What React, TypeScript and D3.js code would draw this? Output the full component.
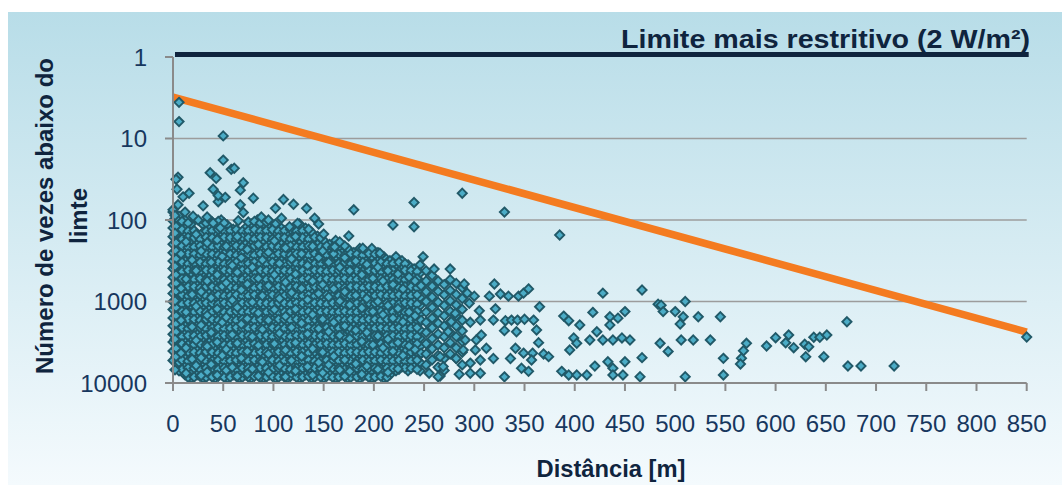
import React from 'react';
import * as d3 from 'd3';

const xTicks = [0, 50, 100, 150, 200, 250, 300, 350, 400, 450, 500, 550, 600, 650, 700, 750, 800, 850];
const yTicks = [1, 10, 100, 1000, 10000];
const gridValues = [10, 100, 1000];
const limitLine: [number, number][] = [[0, 1], [850, 1]];
const trendLine: [number, number][] = [[0, 3.1], [850, 2370]];

const outliers: [number, number][] = [
  [6, 3.6], [6, 6.2], [50, 9.3], [50, 18.4], [58, 23.9], [61, 23.2], [5, 29.9], [3, 31.7], [37, 26.3], [43, 30.8],
  [70, 34.9], [4, 42], [16, 47], [40, 42], [67, 43], [47, 54], [52, 52.7], [45, 59.6], [80, 54], [0, 75], [5, 65],
  [30, 67], [67, 65], [70, 81], [102, 72], [110, 56], [120, 64], [133, 72], [180, 75], [240, 61], [219, 115],
  [240, 121], [65, 102], [108, 95], [116, 121], [141, 95], [145, 112], [150, 149], [175, 157], [189, 222],
  [206, 256], [249, 282], [288, 47], [330, 80], [385, 153], [10, 52], [45, 50], [25, 100], [34, 92], [40, 109],
  [47, 125], [166, 186], [161, 214], [2, 88], [12, 80], [20, 90], [88, 92], [95, 100], [124, 110], [135, 130],
];

const blobColumns: [number, number[]][] = [
  [0, [80, 102, 125, 160, 198, 252, 318, 395, 505, 628, 795, 1005, 1255, 1590, 1990, 2520, 3150, 4050, 5300]],
  [6, [90, 113, 140, 180, 222, 285, 352, 450, 560, 710, 890, 1125, 1410, 1780, 2235, 2820, 3540, 4480, 5600, 7100]],
  [12, [100, 127, 157, 202, 250, 318, 396, 503, 630, 795, 998, 1262, 1580, 1998, 2515, 3160, 3985, 5010, 6320, 7950]],
  [18, [112, 142, 176, 225, 280, 357, 445, 565, 705, 893, 1120, 1415, 1775, 2245, 2815, 3550, 4460, 5630, 7080, 8700]],
  [24, [160, 199, 252, 315, 400, 498, 633, 792, 1003, 1258, 1587, 1995, 2510, 3165, 3980, 5015, 6305, 7940]],
  [30, [114, 141, 179, 223, 283, 354, 448, 560, 709, 890, 1125, 1410, 1780, 2235, 2820, 3545, 4470, 5620, 7075, 8700]],
  [36, [101, 126, 158, 201, 250, 316, 398, 501, 631, 794, 1000, 1259, 1585, 1995, 2512, 3162, 3981, 5012, 6310, 7943]],
  [42, [112, 141, 178, 224, 282, 355, 447, 562, 708, 891, 1122, 1413, 1778, 2239, 2818, 3548, 4467, 5623, 7079, 8700]],
  [48, [100, 126, 158, 200, 251, 316, 398, 501, 631, 794, 1000, 1259, 1585, 1995, 2512, 3162, 3981, 5012, 6310, 7943]],
  [54, [115, 141, 178, 224, 282, 355, 447, 562, 708, 891, 1122, 1413, 1778, 2239, 2818, 3548, 4467, 5623, 7079, 8700]],
  [60, [130, 158, 200, 251, 316, 398, 501, 631, 794, 1000, 1259, 1585, 1995, 2512, 3162, 3981, 5012, 6310, 7943]],
  [66, [141, 178, 224, 282, 355, 447, 562, 708, 891, 1122, 1413, 1778, 2239, 2818, 3548, 4467, 5623, 7079, 8700]],
  [72, [126, 158, 200, 251, 316, 398, 501, 631, 794, 1000, 1259, 1585, 1995, 2512, 3162, 3981, 5012, 6310, 7943]],
  [78, [112, 141, 178, 224, 282, 355, 447, 562, 708, 891, 1122, 1413, 1778, 2239, 2818, 3548, 4467, 5623, 7079, 8700]],
  [84, [100, 126, 158, 200, 251, 316, 398, 501, 631, 794, 1000, 1259, 1585, 1995, 2512, 3162, 3981, 5012, 6310, 7943]],
  [90, [112, 141, 178, 224, 282, 355, 447, 562, 708, 891, 1122, 1413, 1778, 2239, 2818, 3548, 4467, 5623, 7079, 8700]],
  [96, [126, 158, 200, 251, 316, 398, 501, 631, 794, 1000, 1259, 1585, 1995, 2512, 3162, 3981, 5012, 6310, 7943]],
  [102, [112, 141, 178, 224, 282, 355, 447, 562, 708, 891, 1122, 1413, 1778, 2239, 2818, 3548, 4467, 5623, 7079, 8700]],
  [108, [126, 158, 200, 251, 316, 398, 501, 631, 794, 1000, 1259, 1585, 1995, 2512, 3162, 3981, 5012, 6310, 7943]],
  [114, [141, 178, 224, 282, 355, 447, 562, 708, 891, 1122, 1413, 1778, 2239, 2818, 3548, 4467, 5623, 7079, 8700]],
  [120, [126, 158, 200, 251, 316, 398, 501, 631, 794, 1000, 1259, 1585, 1995, 2512, 3162, 3981, 5012, 6310, 7943]],
  [126, [112, 141, 178, 224, 282, 355, 447, 562, 708, 891, 1122, 1413, 1778, 2239, 2818, 3548, 4467, 5623, 7079, 8700]],
  [132, [126, 158, 200, 251, 316, 398, 501, 631, 794, 1000, 1259, 1585, 1995, 2512, 3162, 3981, 5012, 6310, 7943]],
  [138, [141, 178, 224, 282, 355, 447, 562, 708, 891, 1122, 1413, 1778, 2239, 2818, 3548, 4467, 5623, 7079, 8700]],
  [144, [158, 200, 251, 316, 398, 501, 631, 794, 1000, 1259, 1585, 1995, 2512, 3162, 3981, 5012, 6310, 7943]],
  [150, [178, 224, 282, 355, 447, 562, 708, 891, 1122, 1413, 1778, 2239, 2818, 3548, 4467, 5623, 7079, 8700]],
  [156, [200, 251, 316, 398, 501, 631, 794, 1000, 1259, 1585, 1995, 2512, 3162, 3981, 5012, 6310, 7943]],
  [162, [178, 224, 282, 355, 447, 562, 708, 891, 1122, 1413, 1778, 2239, 2818, 3548, 4467, 5623, 7079, 8700]],
  [168, [200, 251, 316, 398, 501, 631, 794, 1000, 1259, 1585, 1995, 2512, 3162, 3981, 5012, 6310, 7943]],
  [174, [224, 282, 355, 447, 562, 708, 891, 1122, 1413, 1778, 2239, 2818, 3548, 4467, 5623, 7079, 8700]],
  [180, [251, 316, 398, 501, 631, 794, 1000, 1259, 1585, 1995, 2512, 3162, 3981, 5012, 6310, 7943]],
  [186, [224, 282, 355, 447, 562, 708, 891, 1122, 1413, 1778, 2239, 2818, 3548, 4467, 5623, 7079, 8700]],
  [192, [251, 316, 398, 501, 631, 794, 1000, 1259, 1585, 1995, 2512, 3162, 3981, 5012, 6310, 7943]],
  [198, [224, 282, 355, 447, 562, 708, 891, 1122, 1413, 1778, 2239, 2818, 3548, 4467, 5623, 7079, 8700]],
  [204, [251, 316, 398, 501, 631, 794, 1000, 1259, 1585, 1995, 2512, 3162, 3981, 5012, 6310, 7943]],
  [210, [282, 355, 447, 562, 708, 891, 1122, 1413, 1778, 2239, 2818, 3548, 4467, 5623, 7079, 8700]],
  [216, [316, 398, 501, 631, 794, 1000, 1259, 1585, 1995, 2512, 3162, 3981, 5012, 6310, 7943]],
  [222, [282, 355, 447, 562, 708, 891, 1122, 1413, 1778, 2239, 2818, 3548, 4467, 5623, 7079]],
  [228, [316, 398, 501, 631, 794, 1000, 1259, 1585, 1995, 2512, 3162, 3981, 5012, 6310]],
  [234, [355, 447, 562, 708, 891, 1122, 1413, 1778, 2239, 2818, 3548, 4467, 5623, 7079]],
  [240, [398, 501, 631, 794, 1000, 1259, 1585, 1995, 2512, 3162, 3981, 5012, 6310]],
  [246, [355, 447, 562, 708, 891, 1122, 1413, 1778, 2239, 2818, 3548, 4467, 5623, 7079]],
];

const blobColumnsB: [number, number[]][] = [
  [3, [95, 120, 150, 190, 240, 300, 380, 470, 600, 750, 950, 1190, 1500, 1880, 2370, 2990, 3760, 4740]],
  [9, [104, 131, 171, 208, 270, 330, 428, 525, 680, 830, 1075, 1320, 1700, 2090, 2700, 3300, 4280, 5250, 6800]],
  [15, [109, 137, 163, 216, 259, 344, 414, 540, 655, 855, 1040, 1355, 1650, 2150, 2610, 3400, 4150, 5400, 6550, 8500]],
  [21, [135, 165, 214, 262, 340, 418, 535, 660, 850, 1050, 1345, 1660, 2130, 2630, 3380, 4180, 5350, 6600, 8450]],
  [27, [171, 208, 270, 330, 428, 525, 680, 830, 1075, 1320, 1700, 2090, 2700, 3300, 4280, 5250, 6800, 8300]],
  [33, [109, 137, 163, 216, 259, 344, 414, 540, 655, 855, 1040, 1355, 1650, 2150, 2610, 3400, 4150, 5400, 6550, 8500]],
  [39, [106, 135, 165, 214, 262, 340, 418, 535, 660, 850, 1050, 1345, 1660, 2130, 2630, 3380, 4180, 5350, 6600, 8450]],
  [45, [104, 131, 171, 208, 270, 330, 428, 525, 680, 830, 1075, 1320, 1700, 2090, 2700, 3300, 4280, 5250, 6800, 8300]],
  [51, [109, 137, 163, 216, 259, 344, 414, 540, 655, 855, 1040, 1355, 1650, 2150, 2610, 3400, 4150, 5400, 6550, 8500]],
  [57, [135, 165, 214, 262, 340, 418, 535, 660, 850, 1050, 1345, 1660, 2130, 2630, 3380, 4180, 5350, 6600, 8450]],
  [63, [131, 171, 208, 270, 330, 428, 525, 680, 830, 1075, 1320, 1700, 2090, 2700, 3300, 4280, 5250, 6800, 8300]],
  [69, [137, 163, 216, 259, 344, 414, 540, 655, 855, 1040, 1355, 1650, 2150, 2610, 3400, 4150, 5400, 6550, 8500]],
  [75, [106, 135, 165, 214, 262, 340, 418, 535, 660, 850, 1050, 1345, 1660, 2130, 2630, 3380, 4180, 5350, 6600, 8450]],
  [81, [104, 131, 171, 208, 270, 330, 428, 525, 680, 830, 1075, 1320, 1700, 2090, 2700, 3300, 4280, 5250, 6800, 8300]],
  [87, [109, 137, 163, 216, 259, 344, 414, 540, 655, 855, 1040, 1355, 1650, 2150, 2610, 3400, 4150, 5400, 6550, 8500]],
  [93, [106, 135, 165, 214, 262, 340, 418, 535, 660, 850, 1050, 1345, 1660, 2130, 2630, 3380, 4180, 5350, 6600, 8450]],
  [99, [131, 171, 208, 270, 330, 428, 525, 680, 830, 1075, 1320, 1700, 2090, 2700, 3300, 4280, 5250, 6800, 8300]],
  [105, [137, 163, 216, 259, 344, 414, 540, 655, 855, 1040, 1355, 1650, 2150, 2610, 3400, 4150, 5400, 6550, 8500]],
  [111, [135, 165, 214, 262, 340, 418, 535, 660, 850, 1050, 1345, 1660, 2130, 2630, 3380, 4180, 5350, 6600, 8450]],
  [117, [131, 171, 208, 270, 330, 428, 525, 680, 830, 1075, 1320, 1700, 2090, 2700, 3300, 4280, 5250, 6800, 8300]],
  [123, [137, 163, 216, 259, 344, 414, 540, 655, 855, 1040, 1355, 1650, 2150, 2610, 3400, 4150, 5400, 6550, 8500]],
  [129, [135, 165, 214, 262, 340, 418, 535, 660, 850, 1050, 1345, 1660, 2130, 2630, 3380, 4180, 5350, 6600, 8450]],
  [135, [171, 208, 270, 330, 428, 525, 680, 830, 1075, 1320, 1700, 2090, 2700, 3300, 4280, 5250, 6800, 8300]],
  [141, [163, 216, 259, 344, 414, 540, 655, 855, 1040, 1355, 1650, 2150, 2610, 3400, 4150, 5400, 6550, 8500]],
  [147, [165, 214, 262, 340, 418, 535, 660, 850, 1050, 1345, 1660, 2130, 2630, 3380, 4180, 5350, 6600, 8450]],
  [153, [208, 270, 330, 428, 525, 680, 830, 1075, 1320, 1700, 2090, 2700, 3300, 4280, 5250, 6800, 8300]],
  [159, [216, 259, 344, 414, 540, 655, 855, 1040, 1355, 1650, 2150, 2610, 3400, 4150, 5400, 6550, 8500]],
  [165, [214, 262, 340, 418, 535, 660, 850, 1050, 1345, 1660, 2130, 2630, 3380, 4180, 5350, 6600, 8450]],
  [171, [208, 270, 330, 428, 525, 680, 830, 1075, 1320, 1700, 2090, 2700, 3300, 4280, 5250, 6800, 8300]],
  [177, [259, 344, 414, 540, 655, 855, 1040, 1355, 1650, 2150, 2610, 3400, 4150, 5400, 6550, 8500]],
  [183, [262, 340, 418, 535, 660, 850, 1050, 1345, 1660, 2130, 2630, 3380, 4180, 5350, 6600, 8450]],
  [189, [270, 330, 428, 525, 680, 830, 1075, 1320, 1700, 2090, 2700, 3300, 4280, 5250, 6800, 8300]],
  [195, [259, 344, 414, 540, 655, 855, 1040, 1355, 1650, 2150, 2610, 3400, 4150, 5400, 6550, 8500]],
  [201, [262, 340, 418, 535, 660, 850, 1050, 1345, 1660, 2130, 2630, 3380, 4180, 5350, 6600, 8450]],
  [207, [270, 330, 428, 525, 680, 830, 1075, 1320, 1700, 2090, 2700, 3300, 4280, 5250, 6800, 8300]],
  [213, [344, 414, 540, 655, 855, 1040, 1355, 1650, 2150, 2610, 3400, 4150, 5400, 6550, 8500]],
  [219, [340, 418, 535, 660, 850, 1050, 1345, 1660, 2130, 2630, 3380, 4180, 5350, 6600]],
  [225, [330, 428, 525, 680, 830, 1075, 1320, 1700, 2090, 2700, 3300, 4280, 5250, 6800]],
  [231, [344, 414, 540, 655, 855, 1040, 1355, 1650, 2150, 2610, 3400, 4150, 5400, 6550]],
  [237, [418, 535, 660, 850, 1050, 1345, 1660, 2130, 2630, 3380, 4180, 5350, 6600]],
  [243, [428, 525, 680, 830, 1075, 1320, 1700, 2090, 2700, 3300, 4280, 5250, 6800]],
];

const blobScatter: [number, number[]][] = [
  [2, [145, 370, 980, 2900, 6900]], [8, [260, 690, 1700, 4300]], [13, [185, 530, 1350, 3700, 7600]],
  [19, [310, 820, 2050, 5100]], [23, [150, 420, 1150, 3000, 6100]], [28, [240, 760, 1950, 4900, 8100]],
  [34, [190, 560, 1480, 3550, 7300]], [38, [330, 900, 2400, 5900]], [44, [175, 470, 1230, 3150, 8000]],
  [49, [280, 650, 1800, 4600]], [53, [210, 590, 1560, 3850, 7000]], [59, [360, 960, 2550, 6400]],
  [64, [160, 440, 1180, 3250, 8300]], [68, [290, 720, 1900, 4950]], [74, [230, 610, 1620, 4100, 7700]],
  [79, [380, 1020, 2700, 6700]], [85, [200, 520, 1380, 3450, 8200]], [89, [310, 850, 2200, 5500]],
  [95, [250, 640, 1700, 4400, 7400]], [101, [180, 470, 1260, 3300]], [106, [340, 920, 2450, 6100]],
  [112, [220, 580, 1520, 3950, 8400]], [118, [300, 780, 2080, 5300]], [122, [160, 460, 1240, 3200, 7100]],
  [128, [260, 690, 1850, 4700]], [134, [360, 950, 2500, 6300]], [139, [210, 560, 1450, 3800, 8000]],
  [145, [290, 800, 2150, 5600]], [149, [240, 620, 1650, 4200, 7500]], [155, [330, 880, 2350, 6000]],
  [160, [260, 700, 1800, 4700]], [166, [380, 990, 2600, 6900]], [171, [290, 760, 2000, 5200, 8300]],
  [176, [420, 1100, 2850, 7200]], [182, [320, 840, 2250, 5800]], [188, [470, 1200, 3100, 7800]],
  [193, [350, 920, 2400, 6200]], [199, [520, 1330, 3400]], [204, [380, 1000, 2650, 6800]],
  [209, [560, 1450, 3700]], [214, [420, 1120, 2900, 7400]], [219, [620, 1600, 4100]],
  [224, [460, 1220, 3200, 6700]], [229, [700, 1780, 4600]], [235, [500, 1350, 3500]],
  [241, [560, 1500, 3900]], [247, [640, 1700, 4300]],
];

const midPoints: [number, number][] = [
  [252, 420], [252, 560], [252, 760], [252, 1000], [252, 1350], [252, 1800], [252, 2400], [252, 3300], [252, 4400], [252, 6000],
  [258, 480], [258, 650], [258, 880], [258, 1180], [258, 1600], [258, 2100], [258, 2850], [258, 3800], [258, 5200],
  [264, 560], [264, 750], [264, 1020], [264, 1380], [264, 1850], [264, 2500], [264, 3400], [264, 4600], [264, 6400],
  [270, 620], [270, 830], [270, 1120], [270, 1500], [270, 2000], [270, 2700], [270, 3700], [270, 5000], [270, 7000],
  [276, 540], [276, 730], [276, 980], [276, 1320], [276, 1780], [276, 2400], [276, 3200], [276, 4400],
  [282, 600], [282, 820], [282, 1100], [282, 1500], [282, 2000], [282, 2700], [282, 3700], [282, 5000],
  [288, 680], [288, 920], [288, 1250], [288, 1700], [288, 2300], [288, 3100], [288, 4200], [288, 6000],
  [260, 400], [276, 400], [255, 7600], [266, 8200], [285, 7800],
  [266, 4750], [269, 6290], [264, 8370], [274, 2350], [281, 1400], [277, 1770],
  [290, 610], [293, 790], [300, 860], [295, 1050], [320, 610], [315, 860], [326, 810], [334, 860], [344, 860],
  [349, 790], [354, 700], [365, 1160], [330, 8400], [359, 1690], [362, 2240], [364, 3200], [358, 4300], [369, 4400],
  [374, 4750], [321, 1230], [305, 1300], [296, 1800], [306, 1690], [319, 1690], [331, 1720], [337, 1690], [343, 1690],
  [350, 1650], [342, 2350], [330, 2280], [291, 2970], [302, 2970], [307, 2580], [289, 3940], [301, 3940], [312, 3750],
  [319, 5000], [306, 5220], [296, 5700], [341, 3750], [349, 4300], [357, 5220], [336, 5000], [347, 6600], [354, 7200],
  [282, 5000], [296, 7600], [306, 7600],
];

const farPoints: [number, number][] = [
  [428, 790], [389, 1510], [394, 1720], [418, 1360], [405, 1940], [399, 2800], [395, 3940], [402, 3250], [415, 2970],
  [422, 2350], [387, 7200], [394, 7970], [402, 7970], [412, 7970], [420, 6200],
  [435, 1540], [443, 1600], [450, 1330], [435, 1940], [428, 2970], [438, 2970], [447, 2800], [455, 2970], [433, 5480],
  [438, 6600], [450, 5480], [448, 7970], [438, 7970], [467, 4890], [465, 8370], [467, 722], [483, 1080], [486, 1110],
  [488, 1330], [510, 1000], [500, 1330], [508, 1540], [523, 1540], [545, 1540], [506, 2970], [518, 2970], [535, 2970],
  [485, 3250], [493, 4100], [510, 8370], [548, 4980], [548, 7970], [505, 1888],
  [571, 3258], [568, 4015], [566, 4977], [565, 5848], [591, 3513], [600, 2780], [613, 2576], [610, 3206], [618, 3687],
  [629, 3350], [638, 2749], [644, 2749], [651, 2576], [633, 3590], [630, 4756], [648, 4756], [671, 1770], [672, 6186],
  [685, 6186], [718, 6186], [850, 2730],
];

const W = 1062;
const H = 485;
const textDark = '#0F243E';
const tickColor = '#17375E';

export default function App() {
  const x = d3.scaleLinear().domain([0, 850]).range([173, 1026.7]);
  const y = d3.scaleLog().domain([1, 10000]).range([57, 383]);
  const flat = (cols: [number, number[]][]) => cols.flatMap(([d, vs]) => vs.map((v) => [d, v] as [number, number]));
  const points: [number, number][] = [
    ...flat(blobColumns),
    ...flat(blobColumnsB),
    ...flat(blobScatter),
    ...midPoints,
    ...farPoints,
    ...outliers,
  ];
  const r = 4.6;
  const diamond = `M0,${-r}L${r},0L0,${r}L${-r},0Z`;
  const line = d3.line<[number, number]>().x((p) => x(p[0])).y((p) => y(p[1]));
  const x0 = x(0);
  const x1 = x(850);
  const yBottom = y(10000);

  return (
    <svg width={W} height={H} style={{ position: 'absolute', left: 0, top: 0 }} fontFamily="'Liberation Sans', Arial, sans-serif">
      <defs>
        <linearGradient id="bg" x1="0" y1="0" x2="0" y2="1">
          <stop offset="0%" stopColor="#B8DDE8" />
          <stop offset="100%" stopColor="#F4FAFD" />
        </linearGradient>
      </defs>
      <rect x={0} y={0} width={W} height={H} fill="#ffffff" />
      <rect x={8} y={12} width={W - 8} height={H - 12} fill="url(#bg)" />
      {gridValues.map((g) => (
        <line key={g} x1={x0} x2={x1} y1={y(g)} y2={y(g)} stroke="#9C9C9C" strokeWidth={1.6} />
      ))}
      <path d={line(trendLine) || ''} stroke="#F47B20" strokeWidth={7.5} fill="none" />
      <g>
        {points.map((p, i) => (
          <path
            key={i}
            d={diamond}
            transform={`translate(${x(p[0])},${y(p[1])})`}
            fill="#4BACC6"
            stroke="#215968"
            strokeWidth={1.9}
          />
        ))}
      </g>
      <line x1={x0} x2={x0} y1={y(1)} y2={yBottom} stroke="#8A8A8A" strokeWidth={2} />
      <line x1={x0} x2={x1} y1={yBottom} y2={yBottom} stroke="#8A8A8A" strokeWidth={2} />
      {yTicks.map((t) => (
        <g key={t}>
          <line x1={x0 - 8} x2={x0} y1={y(t)} y2={y(t)} stroke="#8A8A8A" strokeWidth={2} />
          <text x={147} y={y(t)} dy="0.36em" textAnchor="end" fontSize={24} fill={tickColor}>
            {String(t)}
          </text>
        </g>
      ))}
      {xTicks.map((t) => (
        <g key={t}>
          <line x1={x(t)} x2={x(t)} y1={yBottom} y2={yBottom + 8} stroke="#8A8A8A" strokeWidth={2} />
          <text x={x(t)} y={432} textAnchor="middle" fontSize={24} fill={tickColor}>
            {String(t)}
          </text>
        </g>
      ))}
      <path
        d={line(limitLine) || ''}
        transform="translate(2,-2.5)"
        stroke={textDark}
        strokeWidth={5}
        fill="none"
      />
      <text x={621} y={48} fontSize={25} fontWeight="bold" fill={textDark} textLength={409} lengthAdjust="spacingAndGlyphs">
        Limite mais restritivo (2 W/m²)
      </text>
      <text transform="translate(53,216) rotate(-90)" textAnchor="middle" fontSize={24} fontWeight="bold" fill={textDark} textLength={316} lengthAdjust="spacingAndGlyphs">
        Número de vezes abaixo do
      </text>
      <text transform="translate(87,216) rotate(-90)" textAnchor="middle" fontSize={24} fontWeight="bold" fill={textDark}>
        limte
      </text>
      <text x={611} y={477} textAnchor="middle" fontSize={24} fontWeight="bold" fill={textDark} textLength={149} lengthAdjust="spacingAndGlyphs">
        Distância [m]
      </text>
    </svg>
  );
}
